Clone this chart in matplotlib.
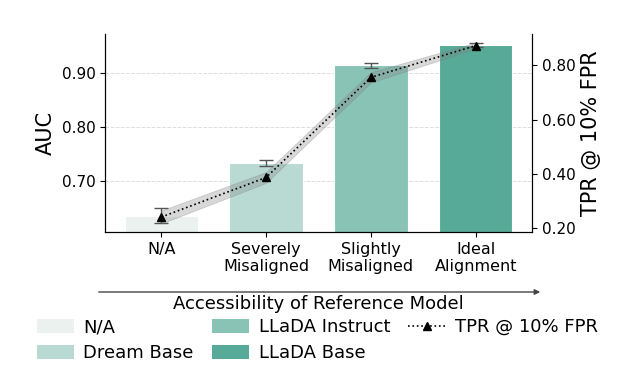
import matplotlib
matplotlib.use('Agg')
import matplotlib.pyplot as plt
from matplotlib.patches import Patch, FancyArrowPatch
import numpy as np

# Dados
categorias = ["N/A", "Severely\nMisaligned", "Slightly\nMisaligned", "Ideal\nAlignment"]
modelos = ["N/A", "Dream Base", "LLaDA Instruct", "LLaDA Base"]
auc = [0.635, 0.733, 0.914, 0.951]
auc_err = [0.014, 0.006, 0.005, 0.004]
tpr = [0.241, 0.387, 0.756, 0.873]
tpr_std = [0.024, 0.020, 0.019, 0.011]

# Cores
CORES = ["#EAF1EE", "#B8DAD3", "#89C3B6", "#58AA98"]

fig = plt.figure(figsize=(6.37, 3.81), dpi=100)
ax = fig.add_axes([0.165, 0.391, 0.67, 0.52])

x = np.arange(len(categorias))
ax.bar(x, auc, width=0.7, color=CORES, edgecolor="white", linewidth=0.8)
ax.errorbar(x, auc, yerr=auc_err, fmt="none", ecolor="#555555", elinewidth=1,
            capsize=5, capthick=1)

ax.set_ylim(0.605, 0.972)
ax.set_yticks([0.70, 0.80, 0.90])
ax.set_yticklabels(["0.70", "0.80", "0.90"])
ax.set_ylabel("AUC", fontsize=15)
ax.set_xticks(x)
ax.set_xticklabels(categorias, fontsize=11.5)
ax.tick_params(axis="y", labelsize=11)
ax.yaxis.grid(True, linestyle="--", color="#dddddd", linewidth=0.7)
ax.set_axisbelow(True)
ax.spines["top"].set_visible(False)

# Eixo direito (TPR)
ax2 = ax.twinx()
tpr = np.array(tpr)
tpr_std = np.array(tpr_std)
ax2.fill_between(x, tpr - tpr_std, tpr + tpr_std, facecolor="gray", alpha=0.3,
                 edgecolor="#777777", linewidth=0.6)
linha, = ax2.plot(x, tpr, linestyle=":", color="black", marker="^",
                  markersize=5.5, linewidth=1.2, label="TPR @ 10% FPR")
ax2.set_ylim(0.186, 0.916)
ax2.set_yticks([0.20, 0.40, 0.60, 0.80])
ax2.set_yticklabels(["0.20", "0.40", "0.60", "0.80"])
ax2.tick_params(axis="y", labelsize=11)
ax2.set_ylabel("TPR @ 10% FPR", fontsize=15)
ax2.spines["top"].set_visible(False)

# Seta
fig.patches.append(FancyArrowPatch(
    (96 / 637, 1 - 292 / 381), (543 / 637, 1 - 292 / 381),
    transform=fig.transFigure, arrowstyle="-|>", mutation_scale=8,
    color="#444444", linewidth=1))
fig.text(0.5, 1 - 304 / 381, "Accessibility of Reference Model", ha="center",
         va="center", fontsize=13)

# Legenda
handles = [Patch(facecolor=c, edgecolor="none", label=m) for c, m in zip(CORES, modelos)]
handles.append(linha)
fig.legend(handles=handles, ncol=3, loc="upper left",
           bbox_to_anchor=(0.046, 1 - 311 / 381), frameon=False, fontsize=13,
           handlelength=2.05, handleheight=0.75, handletextpad=0.55,
           columnspacing=1.0, labelspacing=0.45, borderaxespad=0)

plt.savefig("out.png", dpi=100)
